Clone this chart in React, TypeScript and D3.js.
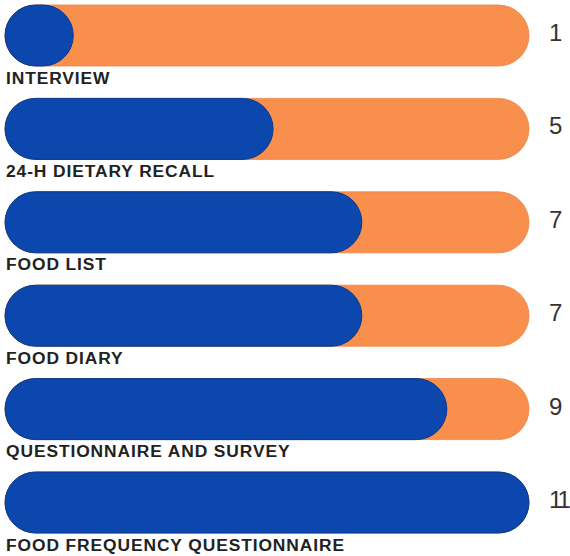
import React from "react"
import * as d3 from "d3"

// Data
const categories = [
    "INTERVIEW",
    "24-H DIETARY RECALL",
    "FOOD LIST",
    "FOOD DIARY",
    "QUESTIONNAIRE AND SURVEY",
    "FOOD FREQUENCY QUESTIONNAIRE",
]
const counts = [1, 5, 7, 7, 9, 11]
const maxCount = 11

export default function App() {
    const width = 570
    const height = 556
    const barLeft = 5
    const barRight = 529
    const barH = 61

    // row tops
    const yScale = d3.scalePoint<string>()
        .domain(categories)
        .range([5, 472])

    // the infographic's fill lengths are not quite linear, a soft power curve fits them
    const xScale = d3.scalePow()
        .exponent(0.85)
        .domain([0, maxCount])
        .range([0, barRight - barLeft])

    return (
        <svg width={width} height={height} style={{ position: "absolute", left: 0, top: 0, background: "#fff" }}>
            {categories.map((cat, i) => {
                const y = yScale(cat) as number
                const w = Math.max(barH, xScale(counts[i]))
                return (
                    <g key={cat}>
                        <rect
                            x={barLeft}
                            y={y}
                            width={barRight - barLeft}
                            height={barH}
                            rx={barH / 2}
                            fill="#F98F4C"
                            stroke="#EE8442"
                            strokeWidth={0.8}
                        />
                        <rect
                            x={barLeft}
                            y={y}
                            width={w}
                            height={barH}
                            rx={barH / 2}
                            fill="#0B47AD"
                            stroke="#08398F"
                            strokeWidth={1}
                        />
                        <text
                            x={6}
                            y={y + barH + 17.5}
                            fontFamily="'Liberation Sans', Arial, sans-serif"
                            fontWeight="bold"
                            fontSize={17.4}
                            letterSpacing={0.9}
                            fill="#222"
                        >
                            {cat}
                        </text>
                        <text
                            x={549}
                            y={y + barH / 2 - 3}
                            dy="0.35em"
                            fontFamily="'Liberation Sans', Arial, sans-serif"
                            fontSize={24}
                            letterSpacing={-3}
                            fill="#333"
                        >
                            {counts[i]}
                        </text>
                    </g>
                )
            })}
        </svg>
    )
}
